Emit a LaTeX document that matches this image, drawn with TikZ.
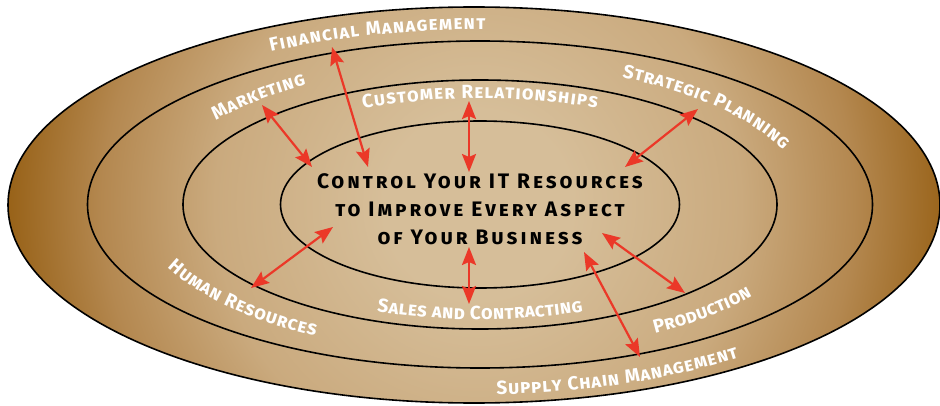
\documentclass[tikz,border=0pt]{standalone}
\usepackage{fontspec}
\setmainfont{Fira Sans}
\usetikzlibrary{decorations.text,arrows.meta}

\definecolor{tanlight}{RGB}{214,190,153}
\definecolor{tanmid}{RGB}{202,170,126}
\definecolor{brownmid}{RGB}{180,136,80}
\definecolor{browndark}{RGB}{152,98,24}
\definecolor{arrowred}{RGB}{235,56,40}

\pgfdeclareradialshading{discshade}{\pgfpointorigin}{color(0bp)=(tanlight); color(5bp)=(tanlight); color(14bp)=(tanmid); color(20bp)=(brownmid); color(25bp)=(browndark); color(50bp)=(browndark)}

\newcommand{\ringfont}{\fontsize{19}{20}\selectfont\bfseries\scshape}
\newcommand{\hubfont}{\fontsize{21}{28}\selectfont\bfseries\scshape\addfontfeatures{LetterSpace=14}}

\tikzset{
	ring/.style={line width=1.6pt},
	link/.style={arrowred, line width=2.2pt, >={Stealth[length=18pt,width=14pt,inset=3pt]}, <->},
	ringtext/.style={decorate, decoration={text along path, text align=fit to path, text color=white, text={|\ringfont|#1}}}
}

\begin{document}
\begin{tikzpicture}[x=1pt,y=1pt]
	\useasboundingbox (0,0) rectangle (940,405);
	
	\begin{scope}
		\clip (474,200) ellipse [x radius=466pt, y radius=198pt];
		\shade[shading=discshade] (478,200) circle (470pt);
	\end{scope}
	\draw[ring] (474,200) ellipse [x radius=466pt, y radius=198pt];
	\foreach \rx/\ry in {392.5/163.5,297/124.5,199.5/83.5}
		\draw[ring] (480,200.5) ellipse [x radius=\rx pt, y radius=\ry pt];
	
	\begin{scope}[shift={(480,200.5)}]
		\path[ringtext={Financial Management}] (119.1:430pt and 175pt) arc[start angle=119.1, end angle=89.3, x radius=430pt, y radius=175pt];
		\path[ringtext={Supply Chain Management}] (272.2:436pt and 190pt) arc[start angle=272.2, end angle=306.4, x radius=436pt, y radius=190pt];
		\path[ringtext={Marketing}] (143.6:328pt and 141pt) arc[start angle=143.6, end angle=122, x radius=328pt, y radius=141pt];
		\path[ringtext={Strategic Planning}] (64.3:328pt and 141pt) arc[start angle=64.3, end angle=22.5, x radius=328pt, y radius=141pt];
		\path[ringtext={Human Resources}] (204.8:344pt and 150pt) arc[start angle=204.8, end angle=241.4, x radius=344pt, y radius=150pt];
		\path[ringtext={Production}] (300.6:344pt and 150pt) arc[start angle=300.6, end angle=322.4, x radius=344pt, y radius=150pt];
		\path[ringtext={Customer Relationships}] (114.7:280pt and 106pt) arc[start angle=114.7, end angle=65.3, x radius=280pt, y radius=106pt];
		\path[ringtext={Sales and Contracting}] (248.4:280pt and 115pt) arc[start angle=248.4, end angle=291.6, x radius=280pt, y radius=115pt];
	\end{scope}
	
	\node[align=center, font=\hubfont] (hub) at (480,196) {Control Your IT Resources\\to Improve Every Aspect\\of Your Business};
	
	\coordinate (fin-o) at (332,358);
	\coordinate (fin-i) at (368,238);
	\coordinate (mkt-o) at (262,300);
	\coordinate (mkt-i) at (312,238);
	\coordinate (cust-o) at (469,304);
	\coordinate (cust-i) at (469,233);
	\coordinate (strat-o) at (698,296);
	\coordinate (strat-i) at (625,238);
	\coordinate (hr-o) at (251,117);
	\coordinate (hr-i) at (333,178);
	\coordinate (sales-o) at (469,101);
	\coordinate (sales-i) at (469,158);
	\coordinate (prod-o) at (685,112);
	\coordinate (prod-i) at (602,172);
	\coordinate (supply-o) at (640,48);
	\coordinate (supply-i) at (584,153);
	\foreach \k in {fin,mkt,cust,strat,hr,sales,prod,supply}
		\draw[link] (\k-i) -- (\k-o);
\end{tikzpicture}
\end{document}
